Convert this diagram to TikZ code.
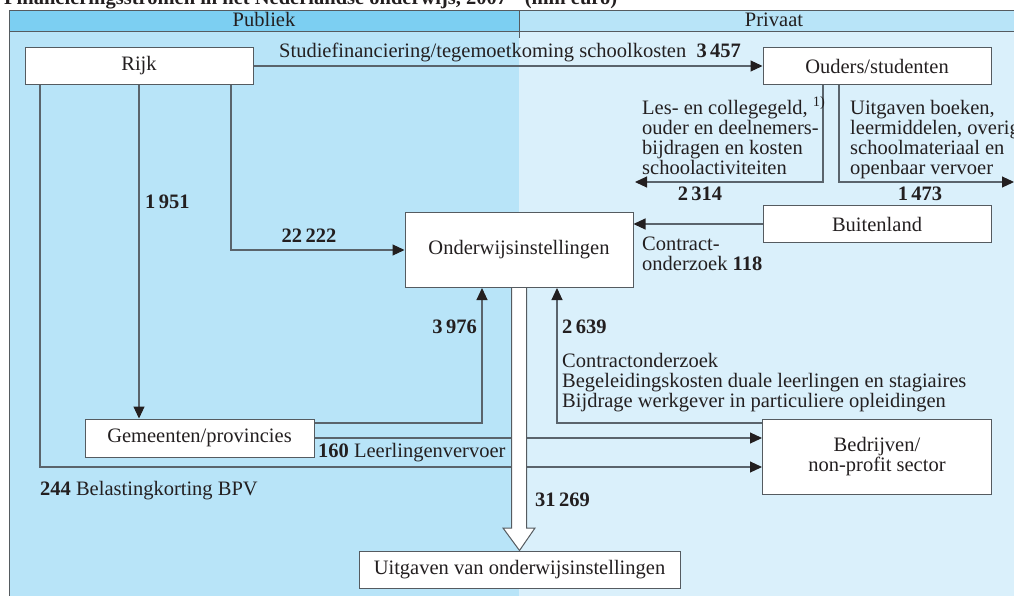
\documentclass[tikz,border=0pt]{standalone}
\usepackage{fontspec}
\setmainfont{Liberation Serif}
\usetikzlibrary{arrows.meta,calc}
\newcommand\myfs{\fontsize{20.5}{20}\selectfont}
\definecolor{pubhead}{HTML}{7CCFF2}
\definecolor{pubbody}{HTML}{B8E4F8}
\definecolor{privhead}{HTML}{B8E4F8}
\definecolor{privbody}{HTML}{DAF0FB}
\definecolor{boxgray}{HTML}{555B60}
\definecolor{linegray}{HTML}{5A646C}
\definecolor{txt}{HTML}{231F20}
\tikzset{
  box/.style={draw=boxgray, fill=white, line width=1pt, inner sep=0pt, font=\myfs, text=txt, align=center},
  conn/.style={draw=linegray, line width=1.1pt},
  arr/.style={conn, -{Triangle[length=12pt,width=11pt,color=txt]}},
  lbl/.style={inner sep=0pt, font=\myfs, text=txt, align=left},
  frame/.style={draw=boxgray, line width=1pt}
}
\begin{document}
\begin{tikzpicture}[x=1pt,y=-1pt]
\useasboundingbox (0,0) rectangle (1014,595);
\clip (0,0) rectangle (1014,595);
% backgrounds
\fill[pubbody] (9,31) rectangle (519,600);
\fill[privbody] (519,31) rectangle (1020,600);
\fill[pubhead] (9,10) rectangle (519,31);
\fill[privhead] (519,10) rectangle (1020,31);
\draw[frame] (1020,10) -- (9,10) -- (9,600);
\draw[frame] (9,31) -- (1020,31);
\draw[frame] (519,10) -- (519,38);
% title (cut off at top)
\node[lbl, anchor=base west, font=\myfs\bfseries] (title) at (4,4) {Financieringsstromen in het Nederlandse onderwijs, 2007\textsuperscript{1)} (mln euro)};
\node[lbl, anchor=base] (publiek) at (264,26) {Publiek};
\node[lbl, anchor=base] (privaat) at (774,26) {Privaat};
% boxes
\node[box, minimum width=228pt, minimum height=37pt] (rijk) at (139,66) {Rijk};
\node[box, minimum width=228pt, minimum height=37pt] (ouders) at (877,66) {Ouders/studenten};
\node[box, minimum width=228pt, minimum height=37pt] (buitenland) at (877,224) {Buitenland};
\node[box, minimum width=228pt, minimum height=75pt] (onderwijs) at (519,250) {Onderwijsinstellingen};
\node[box, minimum width=229pt, minimum height=38pt] (gemeenten) at (199.5,438) {Gemeenten/provincies};
\node[box, minimum width=229pt, minimum height=75pt] (bedrijven) at (877,456.5) {Bedrijven/\\non-profit sector};
\node[box, minimum width=321pt, minimum height=37pt] (uitgaven) at (519.5,569.5) {Uitgaven van onderwijsinstellingen};
% helper coordinates
\coordinate (xa) at (40,0);
\coordinate (xb) at (139,0);
\coordinate (xc) at (231,0);
\coordinate (xd) at (823,0);
\coordinate (xe) at (839,0);
\coordinate (xf) at (482,0);
\coordinate (xg) at (557,0);
\coordinate (lefttip) at (635,182);
\coordinate (righttip) at (1014,182);
% connectors
\draw[arr] (rijk) -- (ouders);
\draw[arr] (rijk.south -| xa) |- ([yshift=-10.5pt]bedrijven.west);
\draw[arr] (rijk.south -| xb) -- (gemeenten.north -| xb);
\draw[arr] (rijk.south -| xc) |- (onderwijs.west);
\draw[arr] (ouders.south -| xd) |- (lefttip);
\draw[arr] (ouders.south -| xe) |- (righttip);
\draw[arr] (buitenland.west) -- (buitenland.west -| onderwijs.east);
\draw[arr] ([yshift=15pt]gemeenten.east) -| (onderwijs.south -| xf);
\draw[arr] (gemeenten.east) -- (gemeenten.east -| bedrijven.west);
\draw[arr] ([yshift=33.5pt]bedrijven.west) -| (onderwijs.south -| xg);
% big hollow arrow
\draw[draw=boxgray, line width=1pt, fill=white]
  ($(onderwijs.south)+(-7.5,0)$) -- ($(onderwijs.south)+(-7.5,240)$)
  -- ($(onderwijs.south)+(-16,240)$) -- (uitgaven.north)
  -- ($(onderwijs.south)+(16,240)$) -- ($(onderwijs.south)+(7.5,240)$)
  -- ($(onderwijs.south)+(7.5,0)$);
% labels (multi-line nodes: base = last line's baseline)
\node[lbl, anchor=base west] (l3457) at (279,57) {Studiefinanciering/tegemoetkoming schoolkosten\ \ \textbf{3\,457}};
\node[lbl, anchor=base west] (lles) at (642,174) {Les- en collegegeld, \textsuperscript{1)}\\ouder en deelnemers-\\bijdragen en kosten\\schoolactiviteiten};
\node[lbl, anchor=base west] (luitg) at (850,174) {Uitgaven boeken,\\leermiddelen, overige\\schoolmateriaal en\\openbaar vervoer};
\node[lbl, anchor=base, font=\myfs\bfseries] (l2314) at (700,200) {2\,314};
\node[lbl, anchor=base, font=\myfs\bfseries] (l1473) at (920,200) {1\,473};
\node[lbl, anchor=base west] (lcontr) at (642,270) {Contract-\\onderzoek \textbf{118}};
\node[lbl, anchor=base west, font=\myfs\bfseries] (l1951) at (145,208) {1\,951};
\node[lbl, anchor=base, font=\myfs\bfseries] (l22222) at (309,242) {22\,222};
\node[lbl, anchor=base east, font=\myfs\bfseries] (l3976) at (477,333) {3\,976};
\node[lbl, anchor=base west, font=\myfs\bfseries] (l2639) at (562,333) {2\,639};
\node[lbl, anchor=base west] (lbedr) at (562,407) {Contractonderzoek\\Begeleidingskosten duale leerlingen en stagiaires\\Bijdrage werkgever in particuliere opleidingen};
\node[lbl, anchor=base west] (l160) at (318,457) {\textbf{160} Leerlingenvervoer};
\node[lbl, anchor=base west] (l244) at (40,495) {\textbf{244} Belastingkorting BPV};
\node[lbl, anchor=base west, font=\myfs\bfseries] (l31269) at (535,506) {31\,269};
\end{tikzpicture}
\end{document}
